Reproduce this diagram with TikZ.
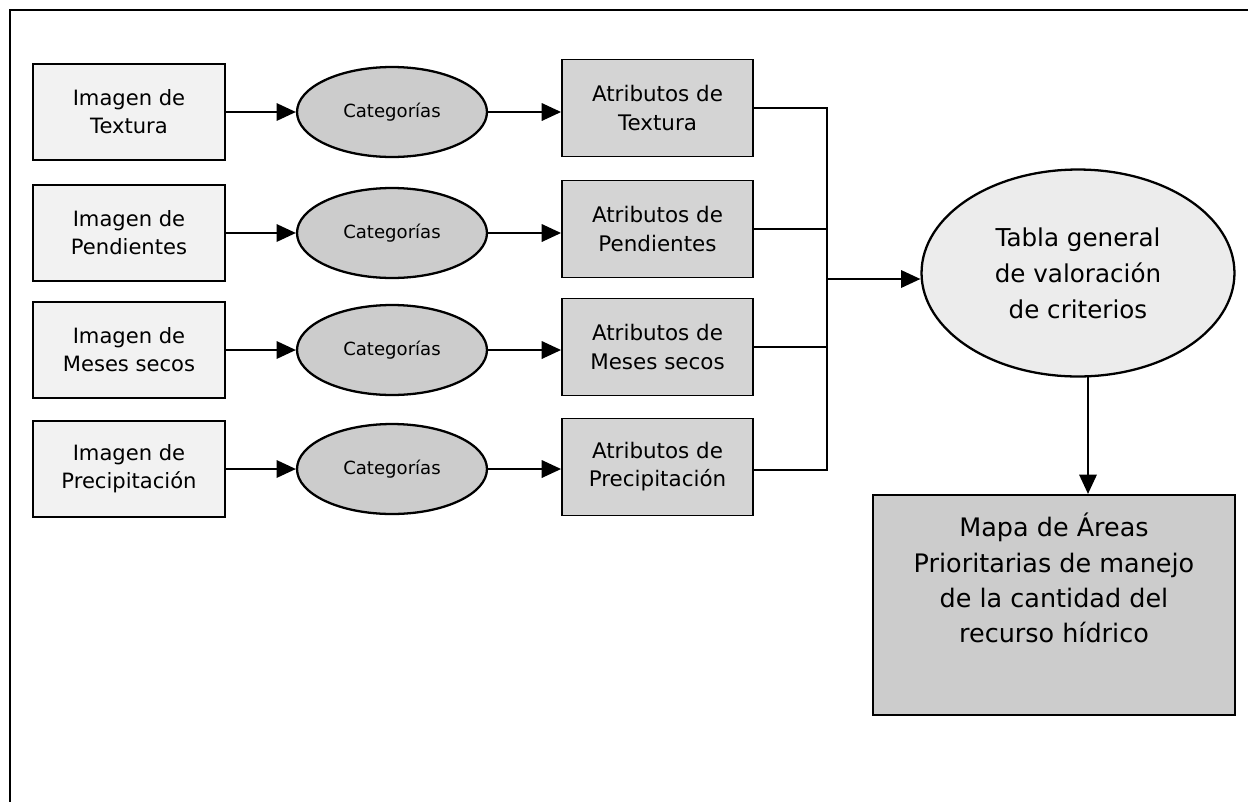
\documentclass[tikz,border=0pt]{standalone}
\usepackage{fontspec}
\setmainfont{DejaVu Sans}
\usetikzlibrary{shapes.geometric,arrows.meta}
\begin{document}
\begin{tikzpicture}[x=0.02cm,y=-0.02cm,
  inbox/.style={draw=black,line width=1.1pt,fill=gray!10,minimum width=3.84cm,minimum height=1.92cm,inner sep=0pt,align=center,font=\fontsize{12}{16}\selectfont},
  catell/.style={ellipse,draw=black,line width=1.3pt,fill=gray!40,minimum width=3.8cm,minimum height=1.8cm,inner sep=0pt,align=center,font=\fontsize{10.3}{13}\selectfont},
  attbox/.style={draw=black,line width=1.1pt,fill=gray!34,minimum width=3.82cm,minimum height=1.94cm,inner sep=0pt,align=center,font=\fontsize{12.2}{16}\selectfont},
  bigell/.style={ellipse,draw=black,line width=1.3pt,fill=gray!15,minimum width=6.26cm,minimum height=4.14cm,inner sep=0pt,align=center,font=\fontsize{14}{20.4}\selectfont},
  mapbox/.style={draw=black,line width=1.3pt,fill=gray!40,minimum width=7.24cm,minimum height=4.4cm,inner sep=0pt},
  maptext/.style={align=center,inner sep=0pt,font=\fontsize{14.5}{20}\selectfont},
  conn/.style={line width=0.9pt,-{Triangle[length=11pt,width=10pt]}},
  plain/.style={line width=0.9pt},
  frame/.style={line width=1.2pt}
]
\useasboundingbox (0,0) rectangle (1248,802);
\coordinate (ftl) at (10,10);
\coordinate (ftr) at (1248,10);
\coordinate (fbl) at (10,802);
\draw[frame] (ftr) -- (ftl) -- (fbl);

\foreach \i/\y/\a/\b in {1/112/Imagen de/Textura,2/233/Imagen de/Pendientes,3/350/Imagen de/Meses secos,4/469/Imagen de/Precipitación}{
  \node[inbox] (in\i) at (129,\y) {\a\\\b};
  \node[catell] (cat\i) at (392,\y) {Categorías};
}
\node[attbox] (at1) at (657.5,108) {Atributos de\\Textura};
\node[attbox] (at2) at (657.5,229) {Atributos de\\Pendientes};
\node[attbox] (at3) at (657.5,347) {Atributos de\\Meses secos};
\node[attbox] (at4) at (657.5,467) {Atributos de\\Precipitación};

\foreach \i in {1,2,3,4}{
  \draw[conn] (in\i.east) -- (cat\i.west);
  \draw[conn] (cat\i.east) -- (cat\i.east -| at\i.west);
}

\node[bigell] (tab) at (1078,273) {Tabla general\\de valoración\\de criterios};
\node[mapbox] (map) at (1054,605) {};
\node[maptext,anchor=north] (maptxt) at ([yshift=-0.38cm]map.north) {Mapa de Áreas\\Prioritarias de manejo\\de la cantidad del\\recurso hídrico};

\coordinate (bus1) at (827,108);
\coordinate (bus4) at (827,470);
\coordinate (busm) at (827,279);
\coordinate (drop) at (1088,375);
\draw[plain] (at1.east) -- (bus1) -- (bus4) -- (at4.east |- bus4);
\draw[plain] (at2.east) -- (at2.east -| bus1);
\draw[plain] (at3.east) -- (at3.east -| bus1);
\draw[conn] (busm) -- (busm -| tab.west);
\draw[conn] (drop) -- (drop |- map.north);
\end{tikzpicture}
\end{document}
